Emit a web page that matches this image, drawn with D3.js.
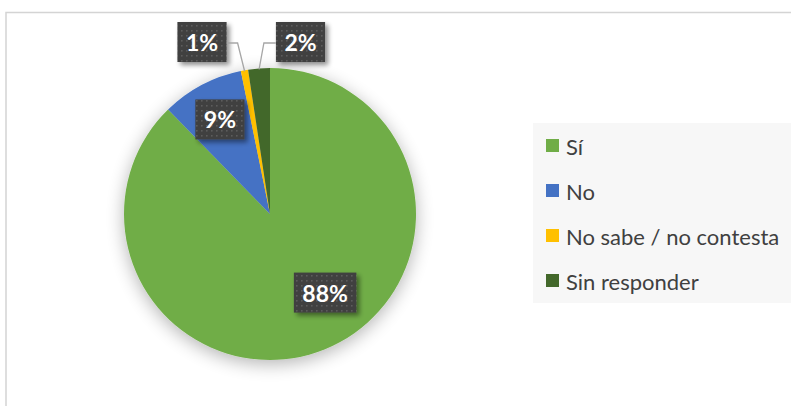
<!DOCTYPE html>
<html>
<head>
<meta charset="utf-8">
<script src="https://cdn.jsdelivr.net/npm/d3@7/dist/d3.min.js"></script>
<style>
  html, body { margin: 0; padding: 0; background: #fff; }
  svg { display: block; }
</style>
</head>
<body>
<svg id="chart" width="791" height="406"></svg>
<script>
// ---- data ----
const categories = ["Sí", "No", "No sabe / no contesta", "Sin responder"];
const values = [87.7, 9.1, 0.8, 2.4];
const labels = ["88%", "9%", "1%", "2%"];
const colors = ["#70AD47", "#4472C4", "#FFC000", "#43682B"];

const W = 791, H = 406;
const svg = d3.select("#chart");
const defs = svg.append("defs");

// pie soft shadow
const f1 = defs.append("filter").attr("id", "pieShadow")
  .attr("x", "-30%").attr("y", "-30%").attr("width", "160%").attr("height", "160%");
f1.append("feGaussianBlur").attr("in", "SourceAlpha").attr("stdDeviation", 9).attr("result", "b");
f1.append("feOffset").attr("in", "b").attr("dx", 0).attr("dy", 4).attr("result", "o");
f1.append("feComponentTransfer").attr("in", "o").attr("result", "s")
  .append("feFuncA").attr("type", "linear").attr("slope", 0.3);
const m1 = f1.append("feMerge");
m1.append("feMergeNode").attr("in", "s");
m1.append("feMergeNode").attr("in", "SourceGraphic");

// label shadow
const f2 = defs.append("filter").attr("id", "lblShadow")
  .attr("x", "-30%").attr("y", "-30%").attr("width", "160%").attr("height", "160%");
f2.append("feGaussianBlur").attr("in", "SourceAlpha").attr("stdDeviation", 2.5).attr("result", "b");
f2.append("feOffset").attr("in", "b").attr("dx", 3).attr("dy", 3).attr("result", "o");
f2.append("feComponentTransfer").attr("in", "o").attr("result", "s")
  .append("feFuncA").attr("type", "linear").attr("slope", 0.45);
const m2 = f2.append("feMerge");
m2.append("feMergeNode").attr("in", "s");
m2.append("feMergeNode").attr("in", "SourceGraphic");

// dotted pattern for labels
const pat = defs.append("pattern").attr("id", "dots")
  .attr("patternUnits", "userSpaceOnUse").attr("width", 5).attr("height", 5);
pat.append("rect").attr("width", 5).attr("height", 5).attr("fill", "#404040");
pat.append("rect").attr("x", 1).attr("y", 1).attr("width", 1.6).attr("height", 1.6).attr("fill", "#5c5c5c");

// chart border (continues off right / bottom)
svg.append("path")
  .attr("d", `M6,${H + 2} V12.5 H${W + 2}`)
  .attr("fill", "none").attr("stroke", "#d4d4d4").attr("stroke-width", 1.5);

// legend background
svg.append("rect").attr("x", 533).attr("y", 123).attr("width", 260).attr("height", 180)
  .attr("fill", "#f7f7f7");

// pie
const cx = 270, cy = 214, R = 146;
const pie = d3.pie().sort(null).value(d => d);
const arcs = pie(values);
const arc = d3.arc().innerRadius(0).outerRadius(R);

const g = svg.append("g").attr("transform", `translate(${cx},${cy})`);
g.append("g").attr("filter", "url(#pieShadow)")
  .selectAll("path").data(arcs).join("path")
  .attr("d", arc)
  .attr("fill", (d, i) => colors[i]);

// label placement
const insideArc = d3.arc().innerRadius(107).outerRadius(107);
const rimArc = d3.arc().innerRadius(R - 1).outerRadius(R - 1);
const placement = [
  { type: "in", pos: d => { const a = 2.53; return [Math.sin(a) * 96, -Math.cos(a) * 96]; } },
  { type: "in", pos: d => insideArc.centroid(d) },
  { type: "out", pos: d => [-68, -172], side: "left" },
  { type: "out", pos: d => [30.5, -172], side: "right" }
];

const lg = g.append("g");
arcs.forEach((d, i) => {
  const p = placement[i].pos(d);
  const t = lg.append("text")
    .attr("x", p[0]).attr("y", p[1])
    .attr("text-anchor", "middle").attr("dominant-baseline", "central")
    .attr("font-family", "Lato, 'Open Sans', sans-serif")
    .attr("font-weight", "bold").attr("font-size", 23)
    .attr("fill", "#fff").text(labels[i]);
  const bb = t.node().getBBox();
  const bw = bb.width + 17, bh = 40;
  const bx = p[0] - bw / 2, by = p[1] - bh / 2;
  if (placement[i].type === "out") {
    const rim = rimArc.centroid(d);
    const ex = placement[i].side === "left" ? bx + bw : bx;
    const kx = placement[i].side === "left" ? ex + 11 : ex - 12;
    lg.append("polyline")
      .attr("points", `${ex},${p[1] + 1} ${kx},${p[1] + 1} ${rim[0]},${rim[1]}`)
      .attr("fill", "none").attr("stroke", "#a6a6a6").attr("stroke-width", 1.3);
  }
  lg.insert("rect", () => t.node())
    .attr("x", bx).attr("y", by).attr("width", bw).attr("height", bh)
    .attr("fill", "url(#dots)").attr("filter", "url(#lblShadow)");
});

// legend
const leg = svg.append("g").attr("transform", "translate(546,146)");
const rows = leg.selectAll("g").data(categories).join("g")
  .attr("transform", (d, i) => `translate(0,${i * 45})`);
rows.append("rect").attr("x", 0).attr("y", -7).attr("width", 13).attr("height", 13)
  .attr("fill", (d, i) => colors[i]);
rows.append("text").attr("x", 20).attr("y", 0).attr("dominant-baseline", "central")
  .attr("font-family", "Lato, 'Open Sans', sans-serif").attr("font-size", 22)
  .attr("fill", "#404040").text(d => d);
</script>
</body>
</html>
